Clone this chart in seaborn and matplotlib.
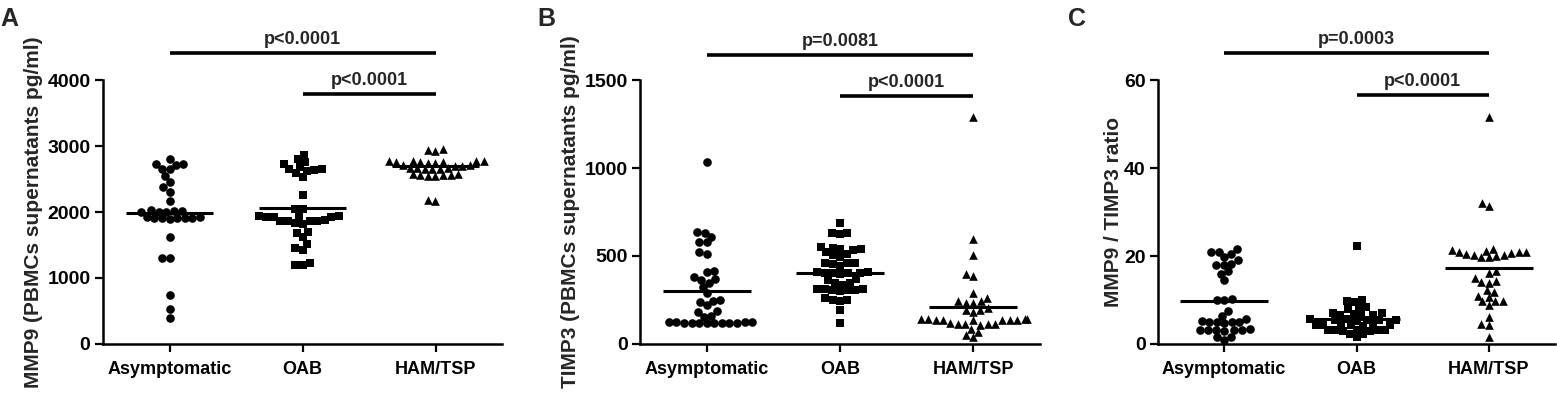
import matplotlib
matplotlib.use('Agg')
import matplotlib.pyplot as plt
from matplotlib.collections import PathCollection
import seaborn as sns
import numpy as np
import pandas as pd

# Groups shared by all three panels
groups = ['Asymptomatic', 'OAB', 'HAM/TSP']
markers = ['o', 's', '^']

# Panel A - MMP9 (pg/ml)
mmp9_asym = [2800, 2720, 2650, 2645, 2705, 2725, 2550, 2460, 2310, 2375, 2170,
             2030, 2010, 2000, 2020, 1995, 2005, 1920, 1910, 1915, 1905, 1925, 1910, 1900, 1915,
             1625, 1310, 1305, 745, 525, 395]
mmp9_oab = [2870, 2800, 2755, 2720, 2675, 2645, 2625, 2640, 2655, 2585, 2535, 2260,
            2040, 2050, 1935, 1925, 1940, 1920, 1930, 1930, 1870, 1860, 1875, 1865, 1870, 1820, 1830,
            1690, 1685, 1615, 1515, 1450, 1425, 1230, 1195, 1200]
mmp9_ham = [2940, 2925, 2960,
            2780, 2770, 2760, 2750, 2775, 2765, 2755, 2770, 2745,
            2705, 2695, 2710, 2700,
            2665, 2655, 2660, 2650, 2670, 2645,
            2570, 2560, 2550, 2555, 2565, 2545, 2575,
            2170, 2175]
mmp9_lines = [1990, 2055, 2690]

# Panel B - TIMP3 (pg/ml)
timp3_asym = [1035, 635, 630, 610, 578, 580, 510, 520, 408, 416, 370, 365, 382, 348, 325, 290,
              252, 237, 222, 246, 190, 180, 156, 160,
              120, 122, 125, 118, 122, 124, 120, 123, 121, 119, 125, 122]
timp3_oab = [685, 633, 624, 628, 553, 542, 534, 523, 538, 546, 504, 509, 496,
             462, 458, 443, 456, 462,
             405, 408, 402, 410, 400, 406, 404,
             370, 361, 347, 338, 347,
             310, 305, 312, 308, 306, 310, 300,
             252, 242, 252, 260, 195, 122]
timp3_ham = [1290, 595, 505, 385, 400, 290, 242, 233, 261, 242, 195, 180, 191, 204, 233,
             140, 135, 138, 142, 136, 139, 141, 137, 134, 140,
             115, 112, 118, 114, 110, 116,
             71, 38, 52, 84]
timp3_lines = [303, 404, 208]

# Panel C - MMP9 / TIMP3 ratio
ratio_asym = [20.4, 21.5, 21.0, 21.0, 19.8, 19.0, 17.9, 17.9, 18.2, 16.6, 16.0, 14.5,
              10.1, 9.9, 10.2, 7.6, 6.4, 5.6,
              5.0, 5.1, 4.9, 5.2, 5.0, 4.8,
              3.2, 3.1, 3.3, 3.2, 3.0, 3.2, 3.1,
              1.7, 1.5, 0.8]
ratio_oab = [22.3, 9.8, 10.1, 9.6, 8.5, 7.9, 8.2, 7.0, 6.6, 6.5, 6.9, 6.6, 7.0,
             5.5, 5.6, 5.4, 5.5, 5.7, 5.3, 5.5,
             4.4, 4.3, 4.5, 4.4, 4.2, 4.6, 4.4,
             3.1, 3.2, 3.0, 3.1, 3.2, 3.0, 3.1,
             2.3, 2.3, 1.5]
ratio_ham = [51.5, 31.3, 32.0,
             20.3, 21.0, 20.5, 19.8, 21.2, 20.0, 21.5, 20.8, 19.7, 21.0, 20.2, 21.3, 20.6,
             16.6, 16.2, 14.2, 13.9, 15.0, 14.3,
             11.8, 10.6, 9.8, 12.2, 8.9, 9.7, 9.8, 11.0,
             6.1, 4.5, 4.3, 1.7]
ratio_lines = [9.7, 5.6, 17.2]

# p-value brackets: (from group, to group, y, label)
brackets_A = [(0, 2, 4410, 'p<0.0001'), (1, 2, 3790, 'p<0.0001')]
brackets_B = [(0, 2, 1642, 'p=0.0081'), (1, 2, 1409, 'p<0.0001')]
brackets_C = [(0, 2, 66.1, 'p=0.0003'), (1, 2, 56.6, 'p<0.0001')]

sns.set_style('ticks')
plt.rcParams['font.family'] = ['Liberation Sans', 'DejaVu Sans']
plt.rcParams['font.weight'] = 'bold'
plt.rcParams['axes.labelweight'] = 'bold'

W, H = 1557, 397
fig = plt.figure(figsize=(W / 100, H / 100), dpi=100)


def px_rect(left, right, top, bottom):
    return [left / W, 1 - bottom / H, (right - left) / W, (bottom - top) / H]


panels = [
    dict(rect=px_rect(103, 502, 80, 344), data=[mmp9_asym, mmp9_oab, mmp9_ham], lines=mmp9_lines,
         ymax=4000, step=1000, ylabel='MMP9 (PBMCs supernatants pg/ml)', lx=-0.150,
         brackets=brackets_A, letter='A', letter_x=0),
    dict(rect=px_rect(640, 1040, 80, 344), data=[timp3_asym, timp3_oab, timp3_ham], lines=timp3_lines,
         ymax=1500, step=500, ylabel='TIMP3 (PBMCs supernatants pg/ml)', lx=-0.150,
         brackets=brackets_B, letter='B', letter_x=537),
    dict(rect=px_rect(1158, 1555, 80, 344), data=[ratio_asym, ratio_oab, ratio_ham], lines=ratio_lines,
         ymax=60, step=20, ylabel='MMP9 / TIMP3 ratio', lx=-0.088,
         brackets=brackets_C, letter='C', letter_x=1068),
]

axes = []
for p in panels:
    ax = fig.add_axes(p['rect'])
    axes.append(ax)
    # swarm laid out with a tight spacing, markers enlarged afterwards so they overlap
    for g, vals, m in zip(groups, p['data'], markers):
        df = pd.DataFrame({'group': g, 'value': vals})
        sns.swarmplot(data=df, x='group', y='value', order=groups, marker=m,
                      color='black', size=5.2, linewidth=0, ax=ax)
    xs = np.arange(len(groups))
    ax.hlines(p['lines'], xs - 0.33, xs + 0.33, colors='black', lw=2.2, zorder=5)

    for x0, x1, y, label in p['brackets']:
        ax.plot([x0, x1], [y, y], color='black', lw=2.6, clip_on=False, solid_capstyle='butt')
        ax.annotate(label, xy=((x0 + x1) / 2, y), xytext=(0, 3.5), textcoords='offset points',
                    ha='center', va='bottom', fontsize=13, fontweight='bold', annotation_clip=False)

    ax.set_xlim(-0.5, 2.5)
    ax.set_ylim(0, p['ymax'])
    ax.set_yticks(np.arange(0, p['ymax'] + 1, p['step']))
    ax.set_xlabel('')
    ax.set_ylabel(p['ylabel'], fontsize=15, fontweight='bold')
    ax.yaxis.set_label_coords(p['lx'], 0.5)
    for lab in ax.get_xticklabels():
        lab.set_fontsize(13)
        lab.set_fontweight('bold')
    for lab in ax.get_yticklabels():
        lab.set_fontsize(14)
        lab.set_fontweight('bold')
    ax.tick_params(axis='both', width=1.6, length=6, colors='black', pad=3)
    ax.tick_params(axis='x', pad=6)
    for side in ['left', 'bottom']:
        ax.spines[side].set_linewidth(1.8)
        ax.spines[side].set_color('black')
    sns.despine(ax=ax)

    fig.text(p['letter_x'] / W, 1 - 26 / H, p['letter'], fontsize=18, fontweight='bold',
             ha='left', va='baseline')

# fix the swarm positions, then grow the markers (GraphPad-style overlap)
fig.canvas.draw()
for ax in axes:
    for coll in ax.collections:
        if isinstance(coll, PathCollection):
            if 'draw' in coll.__dict__:
                del coll.draw
            coll.set_sizes([6.2 ** 2])

fig.savefig('out.png', dpi=100)
